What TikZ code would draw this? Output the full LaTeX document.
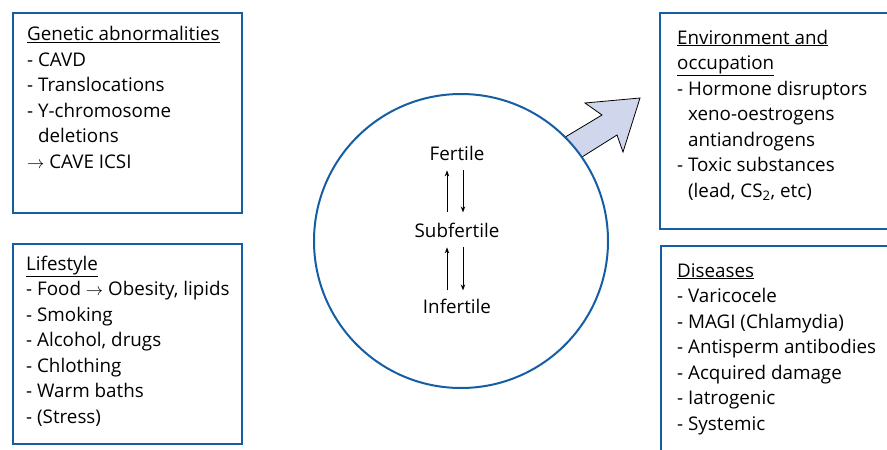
\documentclass[tikz,border=0pt]{standalone}
\usepackage{fontspec}
\setmainfont{Open Sans}
\usetikzlibrary{arrows.meta,calc}
\definecolor{frameblue}{RGB}{22,94,164}
\definecolor{arrowfill}{RGB}{208,214,236}
\begin{document}
\begin{tikzpicture}[x=1pt,y=-1pt,
  box/.style={draw=frameblue, line width=2pt, fill=white, inner sep=0pt, anchor=north west},
  % multi-line lists are placed by the baseline of their last line
  listtext/.style={anchor=base west, inner sep=0pt, align=left,
    font=\fontsize{18.8}{25.5}\selectfont},
  state/.style={anchor=base, inner sep=0pt, font=\fontsize{18.8}{22}\selectfont},
  flow/.style={line width=0.9pt, -{Stealth[length=6pt,width=4.5pt]}},
  blockarrow/.style={draw=black, line width=0.8pt, fill=arrowfill, line join=miter}]
\useasboundingbox (0,0) rectangle (887,450);
\clip (0,0) rectangle (887,450);

% outgoing block arrow (drawn first, its base is hidden by the circle)
\draw[blockarrow] (542,151) -- (602,115) -- (585,103) -- (640,98)
  -- (623,152) -- (617,135) -- (555,174) -- cycle;

% central circle
\node[draw=frameblue, line width=2pt, fill=white, circle, minimum size=294pt,
  inner sep=0pt] (core) at (461,241) {};

% factor boxes
\node[box, minimum width=229pt, minimum height=200pt] (gen) at (12,12) {};
\node[box, minimum width=229pt, minimum height=200pt] (life) at (12,243) {};
\node[box, minimum width=240pt, minimum height=216pt] (env) at (659,12) {};
\node[box, minimum width=240pt, minimum height=220pt] (dis) at (660,245) {};

\node[listtext] (gentext) at (27,168) {\underline{Genetic abnormalities}\\
- CAVD\\
- Translocations\\
- Y-chromosome\\
\phantom{- }deletions\\
$\rightarrow$ CAVE ICSI};

\node[listtext] (lifetext) at (26,423) {\underline{Lifestyle}\\
- Food $\rightarrow$ Obesity, lipids\\
- Smoking\\
- Alcohol, drugs\\
- Chlothing\\
- Warm baths\\
- (Stress)};

\node[listtext] (envtext) at (677,197) {\underline{Environment and}\\
\underline{occupation}\\
- Hormone disruptors\\
\phantom{- }xeno-oestrogens\\
\phantom{- }antiandrogens\\
- Toxic substances\\
\phantom{- }(lead, CS\textsubscript{2}, etc)};

\node[listtext] (distext) at (677,430) {\underline{Diseases}\\
- Varicocele\\
- MAGI (Chlamydia)\\
- Antisperm antibodies\\
- Acquired damage\\
- Iatrogenic\\
- Systemic};

% fertility states
\node[state] (fer) at (457,160) {Fertile};
\node[state] (sub) at (457,237) {Subfertile};
\node[state] (inf) at (457,313) {Infertile};

\draw[flow, shorten <=10pt, shorten >=10pt] ($(sub.north)+(-10,0)$) -- ($(fer.south)+(-10,0)$);
\draw[flow, shorten <=10pt, shorten >=10pt] ($(fer.south)+(6,0)$) -- ($(sub.north)+(6,0)$);
\draw[flow, shorten <=8pt, shorten >=10pt] ($(inf.north)+(-10,0)$) -- ($(sub.south)+(-10,0)$);
\draw[flow, shorten <=10pt, shorten >=8pt] ($(sub.south)+(6,0)$) -- ($(inf.north)+(6,0)$);
\end{tikzpicture}
\end{document}
